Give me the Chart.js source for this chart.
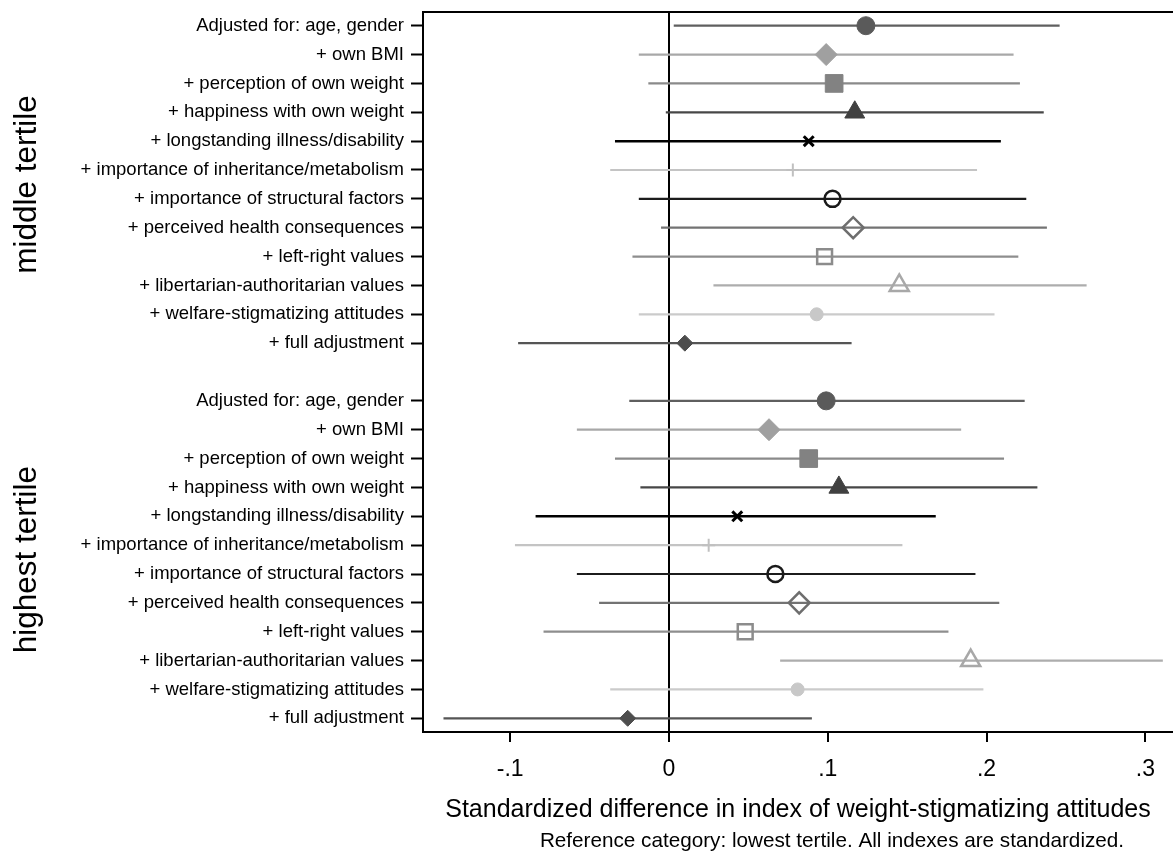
<!DOCTYPE html>
<html>
<head>
<style>
  html, body { margin: 0; padding: 0; background: #fff; overflow: hidden; }
  #wrap { width: 1173px; height: 851px; }
</style>
</head>
<body>
<div id="wrap"><canvas id="chart" width="1173" height="851"></canvas></div>
<script src="https://cdn.jsdelivr.net/npm/chart.js"></script>
<script>
// model rows (same order in both groups)
const modelLabels = [
  'Adjusted for: age, gender',
  '+ own BMI',
  '+ perception of own weight',
  '+ happiness with own weight',
  '+ longstanding illness/disability',
  '+ importance of inheritance/metabolism',
  '+ importance of structural factors',
  '+ perceived health consequences',
  '+ left-right values',
  '+ libertarian-authoritarian values',
  '+ welfare-stigmatizing attitudes',
  '+ full adjustment'
];
const groupLabels = ['middle tertile', 'highest tertile'];

// middle tertile: estimate, lower and upper bound
const midEst = [0.124, 0.099, 0.104, 0.117, 0.088, 0.078, 0.103, 0.116, 0.098, 0.145, 0.093, 0.010];
const midLo  = [0.003, -0.019, -0.013, -0.002, -0.034, -0.037, -0.019, -0.005, -0.023, 0.028, -0.019, -0.095];
const midHi  = [0.246, 0.217, 0.221, 0.236, 0.209, 0.194, 0.225, 0.238, 0.220, 0.263, 0.205, 0.115];

// highest tertile
const highEst = [0.099, 0.063, 0.088, 0.107, 0.043, 0.025, 0.067, 0.082, 0.048, 0.190, 0.081, -0.026];
const highLo  = [-0.025, -0.058, -0.034, -0.018, -0.084, -0.097, -0.058, -0.044, -0.079, 0.070, -0.037, -0.142];
const highHi  = [0.224, 0.184, 0.211, 0.232, 0.168, 0.147, 0.193, 0.208, 0.176, 0.311, 0.198, 0.090];

const xTickValues = [-0.1, 0, 0.1, 0.2, 0.3];
const xTickLabels = ['-.1', '0', '.1', '.2', '.3'];

// marker look per model
const lineColors = ['#5f5f5f', '#a8a8a8', '#8a8a8a', '#474747', '#000000', '#c4c4c4',
                    '#1c1c1c', '#737373', '#8e8e8e', '#adadad', '#cbcbcb', '#555555'];
const markColors = ['#5a5a5a', '#a0a0a0', '#828282', '#404040', '#000000', '#c0c0c0',
                    '#1a1a1a', '#6e6e6e', '#8c8c8c', '#a8a8a8', '#c8c8c8', '#4d4d4d'];
const markStyles = ['circle', 'rectRot', 'rect', 'triangle', 'crossRot', 'cross',
                    'circle', 'rectRot', 'rect', 'triangle', 'circle', 'rectRot'];
const markFilled = [true, true, true, true, true, true, false, false, false, false, true, true];
const markRadius = [9, 11, 12.5, 11.5, 7, 6.5, 8, 10.5, 10.5, 11, 6.5, 8];
const markWidth  = [1, 1, 1, 1, 3, 2, 2.5, 2.5, 2.5, 2.5, 1, 1];

// row index: group 0 -> 0..11, blank row 12, group 1 -> 13..24
const rowOf = (g, i) => g * (modelLabels.length + 1) + i;
const nRows = modelLabels.length * 2 + 1;

const datasets = [];
[[midEst, midLo, midHi], [highEst, highLo, highHi]].forEach(([est, lo, hi], g) => {
  est.forEach((_, i) => {
    datasets.push({
      data: [{ x: lo[i], y: rowOf(g, i) }, { x: hi[i], y: rowOf(g, i) }],
      showLine: true,
      borderColor: lineColors[i],
      borderWidth: i === 4 ? 2.5 : 2.2,
      pointRadius: 0,
      order: 2
    });
  });
});
modelLabels.forEach((_, i) => {
  datasets.push({
    data: [{ x: midEst[i], y: rowOf(0, i) }, { x: highEst[i], y: rowOf(1, i) }],
    showLine: false,
    pointStyle: markStyles[i],
    pointRadius: markRadius[i],
    pointHoverRadius: markRadius[i],
    backgroundColor: markFilled[i] ? markColors[i] : 'rgba(0,0,0,0)',
    borderColor: markColors[i],
    borderWidth: markWidth[i],
    order: 1
  });
});

const tickRows = [];
for (let r = 0; r < nRows; r++) if (r !== modelLabels.length) tickRows.push(r);

const FONT = '"Liberation Sans", Arial, sans-serif';

// group names and the note under the axis title
const extraText = {
  id: 'extraText',
  afterDraw(chart) {
    const { ctx, chartArea, scales: { y } } = chart;
    ctx.save();
    ctx.fillStyle = '#000';
    ctx.font = '31.5px ' + FONT;
    ctx.textAlign = 'center';
    ctx.textBaseline = 'middle';
    groupLabels.forEach((t, g) => {
      const cy = y.getPixelForValue(rowOf(g, (modelLabels.length - 1) / 2));
      ctx.save();
      ctx.translate(27, cy);
      ctx.rotate(-Math.PI / 2);
      ctx.fillText(t, 0, 0);
      ctx.restore();
    });
    ctx.font = '20.7px ' + FONT;
    ctx.fillText('Reference category: lowest tertile. All indexes are standardized.',
      (chartArea.left + chartArea.right) / 2 + 34, 841);
    ctx.restore();
  }
};

new Chart(document.getElementById('chart'), {
  type: 'scatter',
  data: { datasets },
  options: {
    responsive: false,
    animation: false,
    layout: { autoPadding: false, padding: { top: 12, right: 0, left: 0, bottom: 26 } },
    plugins: { legend: { display: false }, tooltip: { enabled: false } },
    scales: {
      x: {
        type: 'linear',
        min: -0.1549,
        max: 0.3174,
        afterBuildTicks: s => { s.ticks = xTickValues.map(v => ({ value: v })); },
        afterFit: s => { s.height = 93; s.paddingLeft = 0; s.paddingRight = 0; },
        ticks: {
          color: '#000',
          font: { family: FONT, size: 23 },
          padding: 14,
          callback: v => xTickLabels[xTickValues.indexOf(v)]
        },
        grid: {
          color: c => (c.tick && c.tick.value === 0 ? '#000' : 'rgba(0,0,0,0)'),
          lineWidth: 2,
          tickColor: '#000',
          tickLength: 10,
          tickWidth: 2
        },
        border: { color: '#000', width: 2 },
        title: {
          display: true,
          text: 'Standardized difference in index of weight-stigmatizing attitudes',
          color: '#000',
          font: { family: FONT, size: 25 },
          padding: { top: 12, bottom: 0 }
        }
      },
      xTop: {
        type: 'linear',
        position: 'top',
        min: -0.1549,
        max: 0.3174,
        afterFit: s => { s.height = 0; },
        ticks: { display: false },
        grid: { display: false },
        border: { color: '#000', width: 2 }
      },
      y: {
        type: 'linear',
        reverse: true,
        min: -0.475,
        max: nRows - 1 + 0.475,
        afterBuildTicks: s => { s.ticks = tickRows.map(v => ({ value: v })); },
        afterFit: s => { s.width = 423; s.paddingTop = 0; s.paddingBottom = 0; },
        ticks: {
          color: '#000',
          font: { family: FONT, size: 18.5 },
          padding: 7,
          autoSkip: false,
          callback: v => modelLabels[v % (modelLabels.length + 1)]
        },
        grid: {
          drawOnChartArea: false,
          tickColor: '#000',
          tickLength: 12,
          tickWidth: 2
        },
        border: { color: '#000', width: 2 }
      }
    }
  },
  plugins: [extraText]
});
</script>
</body>
</html>
